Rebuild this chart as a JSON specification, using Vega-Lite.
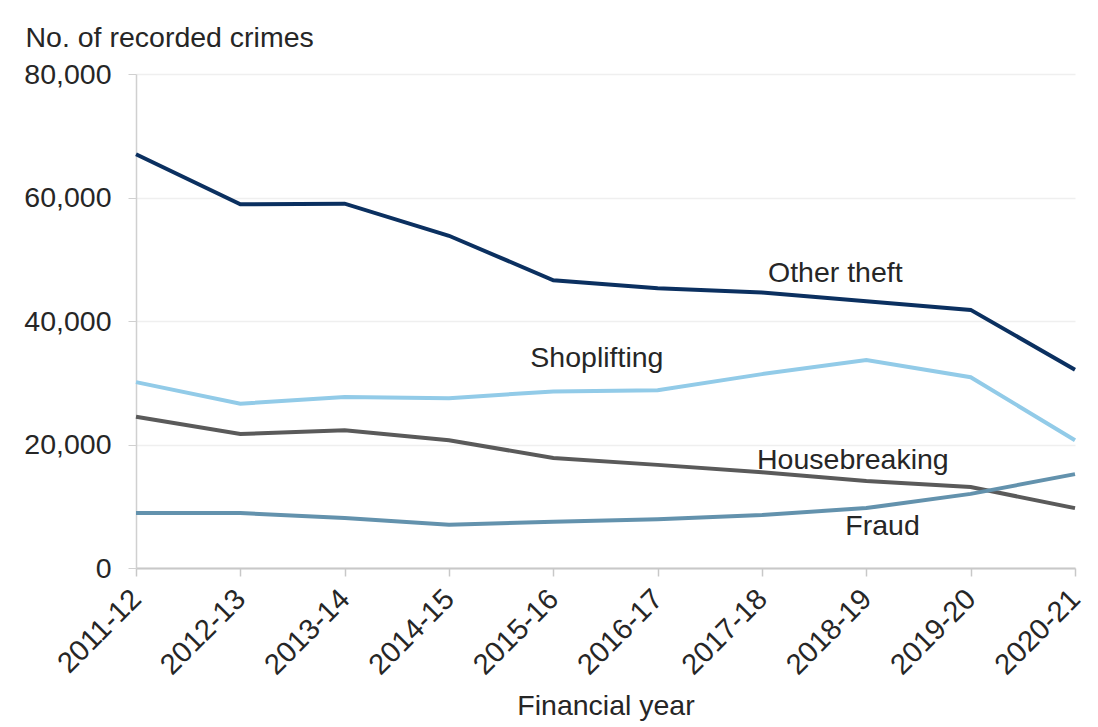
{
  "$schema": "https://vega.github.io/schema/vega-lite/v6.json",
  "width": 939,
  "height": 494,
  "autosize": "none",
  "padding": {"left": 136, "top": 74, "right": 23, "bottom": 159},
  "background": "white",
  "config": {
    "view": {"stroke": null},
    "font": "Liberation Sans"
  },
  "datasets": {
    "crimes": [
      {"year": "2011-12", "series": "Other theft", "value": 67000},
      {"year": "2012-13", "series": "Other theft", "value": 58900},
      {"year": "2013-14", "series": "Other theft", "value": 59000},
      {"year": "2014-15", "series": "Other theft", "value": 53800},
      {"year": "2015-16", "series": "Other theft", "value": 46600},
      {"year": "2016-17", "series": "Other theft", "value": 45300},
      {"year": "2017-18", "series": "Other theft", "value": 44600},
      {"year": "2018-19", "series": "Other theft", "value": 43200},
      {"year": "2019-20", "series": "Other theft", "value": 41800},
      {"year": "2020-21", "series": "Other theft", "value": 32100},
      {"year": "2011-12", "series": "Shoplifting", "value": 30100},
      {"year": "2012-13", "series": "Shoplifting", "value": 26600},
      {"year": "2013-14", "series": "Shoplifting", "value": 27700},
      {"year": "2014-15", "series": "Shoplifting", "value": 27500},
      {"year": "2015-16", "series": "Shoplifting", "value": 28600},
      {"year": "2016-17", "series": "Shoplifting", "value": 28800},
      {"year": "2017-18", "series": "Shoplifting", "value": 31400},
      {"year": "2018-19", "series": "Shoplifting", "value": 33700},
      {"year": "2019-20", "series": "Shoplifting", "value": 30900},
      {"year": "2020-21", "series": "Shoplifting", "value": 20700},
      {"year": "2011-12", "series": "Housebreaking", "value": 24500},
      {"year": "2012-13", "series": "Housebreaking", "value": 21700},
      {"year": "2013-14", "series": "Housebreaking", "value": 22300},
      {"year": "2014-15", "series": "Housebreaking", "value": 20700},
      {"year": "2015-16", "series": "Housebreaking", "value": 17800},
      {"year": "2016-17", "series": "Housebreaking", "value": 16700},
      {"year": "2017-18", "series": "Housebreaking", "value": 15500},
      {"year": "2018-19", "series": "Housebreaking", "value": 14100},
      {"year": "2019-20", "series": "Housebreaking", "value": 13100},
      {"year": "2020-21", "series": "Housebreaking", "value": 9700},
      {"year": "2011-12", "series": "Fraud", "value": 8900},
      {"year": "2012-13", "series": "Fraud", "value": 8900},
      {"year": "2013-14", "series": "Fraud", "value": 8100},
      {"year": "2014-15", "series": "Fraud", "value": 7000},
      {"year": "2015-16", "series": "Fraud", "value": 7500},
      {"year": "2016-17", "series": "Fraud", "value": 7900},
      {"year": "2017-18", "series": "Fraud", "value": 8600},
      {"year": "2018-19", "series": "Fraud", "value": 9700},
      {"year": "2019-20", "series": "Fraud", "value": 12000},
      {"year": "2020-21", "series": "Fraud", "value": 15200}
    ],
    "labels": [
      {"year": "2017-18", "value": 47800, "label": "Other theft"},
      {"year": "2015-16", "value": 34000, "label": "Shoplifting"},
      {"year": "2017-18", "value": 17500, "label": "Housebreaking"},
      {"year": "2018-19", "value": 6800, "label": "Fraud"}
    ]
  },
  "layer": [
    {
      "data": {"name": "crimes"},
      "mark": {"type": "line", "strokeWidth": 4},
      "encoding": {
        "x": {
          "field": "year", "type": "ordinal",
          "scale": {"type": "point", "padding": 0},
          "axis": {
            "title": "Financial year",
            "titleFont": "Liberation Sans", "titleFontSize": 28.5, "titleFontWeight": "normal",
            "titleColor": "#262626", "titleBaseline": "top", "titleY": 123,
            "labelAngle": -45, "labelAlign": "right", "labelBaseline": "middle",
            "labelFontSize": 29, "labelColor": "#262626", "labelPadding": 18,
            "domainColor": "#c8c8c8", "domainWidth": 2,
            "tickColor": "#c8c8c8", "tickSize": 8, "tickWidth": 1.5,
            "grid": false
          }
        },
        "y": {
          "field": "value", "type": "quantitative",
          "scale": {"domain": [0, 80000]},
          "axis": {
            "title": "No. of recorded crimes",
            "titleAngle": 0, "titleAlign": "left", "titleBaseline": "alphabetic",
            "titleX": -111, "titleY": -28,
            "titleFontSize": 28.5, "titleFontWeight": "normal", "titleColor": "#262626",
            "values": [0, 20000, 40000, 60000, 80000],
            "format": ",d",
            "labelFontSize": 28.5, "labelColor": "#262626", "labelPadding": 17,
            "domainColor": "#d0d0d0", "domainWidth": 1.5,
            "tickColor": "#d0d0d0", "tickSize": 8,
            "grid": true, "gridColor": "#efefef", "gridWidth": 1.5
          }
        },
        "color": {
          "field": "series", "type": "nominal",
          "scale": {
            "domain": ["Other theft", "Shoplifting", "Housebreaking", "Fraud"],
            "range": ["#0b3060", "#92cbe8", "#5a5a5a", "#6392ad"]
          },
          "legend": null
        }
      }
    },
    {
      "data": {"name": "labels"},
      "transform": [{"filter": "datum.label == 'Other theft'"}],
      "mark": {"type": "text", "align": "left", "baseline": "middle", "dx": 6, "fontSize": 28.5, "color": "#262626"},
      "encoding": {
        "x": {"field": "year", "type": "ordinal"},
        "y": {"field": "value", "type": "quantitative"},
        "text": {"field": "label"}
      }
    },
    {
      "data": {"name": "labels"},
      "transform": [{"filter": "datum.label == 'Shoplifting'"}],
      "mark": {"type": "text", "align": "left", "baseline": "middle", "dx": -23, "fontSize": 28.5, "color": "#262626"},
      "encoding": {
        "x": {"field": "year", "type": "ordinal"},
        "y": {"field": "value", "type": "quantitative"},
        "text": {"field": "label"}
      }
    },
    {
      "data": {"name": "labels"},
      "transform": [{"filter": "datum.label == 'Housebreaking'"}],
      "mark": {"type": "text", "align": "left", "baseline": "middle", "dx": -5, "fontSize": 28.5, "color": "#262626"},
      "encoding": {
        "x": {"field": "year", "type": "ordinal"},
        "y": {"field": "value", "type": "quantitative"},
        "text": {"field": "label"}
      }
    },
    {
      "data": {"name": "labels"},
      "transform": [{"filter": "datum.label == 'Fraud'"}],
      "mark": {"type": "text", "align": "left", "baseline": "middle", "dx": -21, "fontSize": 28.5, "color": "#262626"},
      "encoding": {
        "x": {"field": "year", "type": "ordinal"},
        "y": {"field": "value", "type": "quantitative"},
        "text": {"field": "label"}
      }
    }
  ]
}
